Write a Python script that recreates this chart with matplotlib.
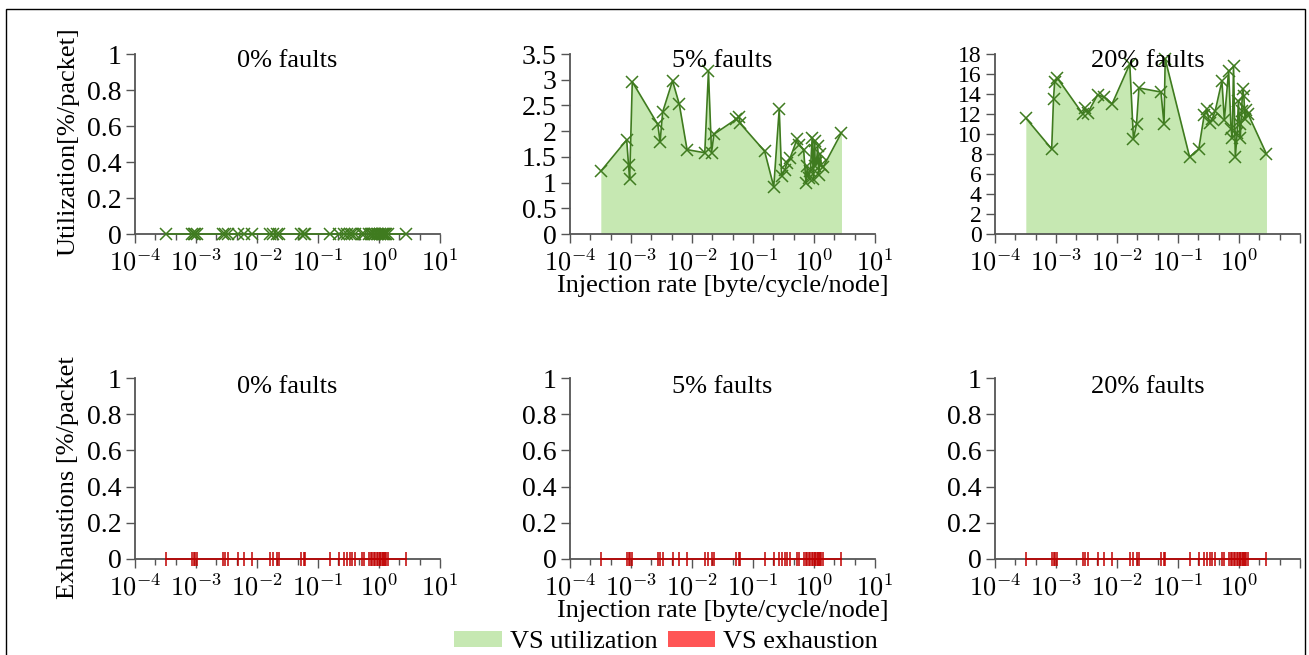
import numpy as np
import matplotlib
matplotlib.use('Agg')
import matplotlib.pyplot as plt
from matplotlib.patches import Patch, Rectangle
from matplotlib.ticker import FixedLocator, FuncFormatter

########################################
# Data
########################################

rates = [0.00032, 0.00085, 0.00091, 0.00095, 0.00105, 0.00275, 0.0030, 0.0033,
         0.0048, 0.0062, 0.0083, 0.0162, 0.0186, 0.0209, 0.0229, 0.0525, 0.059,
         0.0617, 0.155, 0.219, 0.269, 0.295, 0.331, 0.363, 0.407, 0.525, 0.575,
         0.676, 0.741, 0.776, 0.813, 0.871, 0.933, 0.977, 1.02, 1.05, 1.10,
         1.15, 1.20, 1.26, 1.32, 1.41, 2.82]

util_0 = [0.0] * len(rates)
util_5 = [1.22, 1.83, 1.35, 1.06, 2.96, 2.13, 1.79, 2.37, 2.98, 2.52, 1.64, 1.58,
          3.16, 1.58, 1.94, 2.23, 2.28, 2.15, 1.61, 0.92, 2.43, 1.12, 1.25, 1.38,
          1.48, 1.84, 1.74, 1.64, 0.99, 1.32, 1.09, 1.22, 1.87, 1.06, 1.81, 1.32,
          1.40, 1.71, 1.15, 1.55, 1.35, 1.30, 1.97]
util_20 = [11.6, 8.5, 13.5, 15.2, 15.6, 12.0, 12.6, 12.1, 13.9, 13.7, 13.0, 17.0,
           9.5, 11.0, 14.6, 14.2, 11.0, 17.5, 7.7, 8.5, 11.9, 12.5, 11.1, 11.5,
           12.3, 15.3, 11.4, 16.3, 10.5, 9.6, 16.8, 7.7, 10.1, 13.3, 11.0, 9.6,
           12.3, 14.5, 13.8, 11.5, 12.4, 12.0, 8.0]
exhaust = [0.0] * len(rates)

titles = ['0% faults', '5% faults', '20% faults']
util_series = [util_0, util_5, util_20]
util_ylims = [1, 3.5, 18]
util_yticks = [[0, 0.2, 0.4, 0.6, 0.8, 1],
               [0, 0.5, 1, 1.5, 2, 2.5, 3, 3.5],
               [0, 2, 4, 6, 8, 10, 12, 14, 16, 18]]
exh_yticks = [0, 0.2, 0.4, 0.6, 0.8, 1]

########################################
# Style
########################################

plt.rcParams['font.family'] = ['Liberation Serif', 'DejaVu Serif']
plt.rcParams['mathtext.fontset'] = 'cm'
plt.rcParams['font.size'] = 19

FILL = '#c6e8b2'
LINE = '#3f7b1f'
RED_MARK = '#c00000'
RED_FILL = '#ff5555'
AX_COL = '#555555'
FS = 19

W, H = 1309, 655
fig = plt.figure(figsize=(W / 100, H / 100), dpi=100)


def px_axes(left, top, bottom, width=305):
    return fig.add_axes([left / W, 1 - bottom / H, width / W, (bottom - top) / H])


def style_axis(ax, ymax, yticks, hide_last_x=False, ysize=20):
    ax.set_xscale('log')
    ax.set_xlim(1e-4, 1e1)
    ax.set_ylim(0, ymax)
    for s in ['top', 'right']:
        ax.spines[s].set_visible(False)
    for s in ['left', 'bottom']:
        ax.spines[s].set_color(AX_COL)
        ax.spines[s].set_linewidth(1.3)
    majors = [1e-4, 1e-3, 1e-2, 1e-1, 1e0, 1e1]
    minors = [10 ** (k + f) for k in range(-4, 1) for f in (1 / 3, 2 / 3)]
    ax.xaxis.set_major_locator(FixedLocator(majors))
    ax.xaxis.set_minor_locator(FixedLocator(minors))

    def xfmt(v, pos):
        e = int(round(np.log10(v)))
        if hide_last_x and e == 1:
            return ''
        return r'$10^{%d}$' % e
    ax.xaxis.set_major_formatter(FuncFormatter(xfmt))
    ax.xaxis.set_minor_formatter(FuncFormatter(lambda v, p: ''))
    ax.set_yticks(yticks)
    ax.yaxis.set_major_formatter(FuncFormatter(lambda v, p: '{:g}'.format(v)))
    ax.tick_params(which='major', direction='out', length=6.5, width=1,
                   color=AX_COL, pad=2)
    ax.tick_params(which='minor', direction='out', length=4.3, width=1,
                   color=AX_COL)
    ax.tick_params(axis='x', labelsize=19, pad=4)
    ax.tick_params(axis='y', labelsize=ysize, pad=3)


lefts = [135, 570, 995]

# top row: utilization
for i in range(3):
    ax = px_axes(lefts[i], 54, 234)
    y = util_series[i]
    ax.fill_between(rates, y, 0, color=FILL, linewidth=0, zorder=1)
    ax.plot(rates, y, color=LINE, lw=1.2, marker='x', ms=9, mew=1.1,
            clip_on=False, zorder=3)
    style_axis(ax, util_ylims[i], util_yticks[i], hide_last_x=(i == 2),
               ysize=(17 if i == 2 else 20))
    ax.text(0.5, 0.96, titles[i], transform=ax.transAxes, ha='center',
            va='center', fontsize=FS)
    if i == 1:
        ax.set_xlabel('Injection rate [byte/cycle/node]', fontsize=FS, labelpad=0)

# bottom row: exhaustion
for i in range(3):
    ax = px_axes(lefts[i], 378, 559)
    ax.plot(rates, exhaust, color=RED_MARK, lw=1.2, marker='|', ms=10, mew=1.1,
            clip_on=False, zorder=3)
    style_axis(ax, 1, exh_yticks, hide_last_x=(i == 2))
    ax.text(0.5, 0.95, titles[i], transform=ax.transAxes, ha='center',
            va='center', fontsize=FS)
    if i == 1:
        ax.set_xlabel('Injection rate [byte/cycle/node]', fontsize=FS, labelpad=0)

fig.text(68 / W, 1 - 142 / H, 'Utilization[%/packet]', rotation=90,
         ha='center', va='center', fontsize=FS)
fig.text(68 / W, 1 - 478 / H, 'Exhaustions [%/packet', rotation=90,
         ha='center', va='center', fontsize=FS)

handles = [Patch(facecolor=FILL, edgecolor='none'),
           Patch(facecolor=RED_FILL, edgecolor='none')]
fig.legend(handles, ['VS utilization', 'VS exhaustion'], loc='center',
           bbox_to_anchor=(666 / W, 1 - 642 / H), ncol=2, frameon=False,
           handlelength=1.8, handleheight=0.55, columnspacing=0.4,
           handletextpad=0.3, fontsize=FS, borderpad=0)

# outer frame
fig.add_artist(Rectangle((6 / W, -0.05), (1305 - 6) / W, 1 - 9 / H + 0.05,
                         transform=fig.transFigure, fill=False,
                         edgecolor='black', linewidth=1))

fig.savefig('out.png', dpi=100)
